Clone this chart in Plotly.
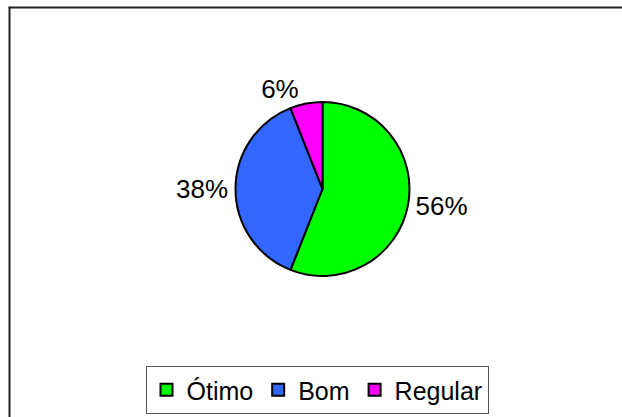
import plotly.graph_objects as go

# data
labels = ["Ótimo", "Bom", "Regular"]
values = [56, 38, 6]
colors = ["#00FF00", "#3366FF", "#FF00FF"]

W, H = 622, 417
FONT = "Liberation Sans, Arial, sans-serif"

# pie placement (pixels): centre and radius
cx, cy, r = 322.5, 189, 87

fig = go.Figure()
fig.add_trace(
    go.Pie(
        labels=labels,
        values=values,
        sort=False,
        direction="clockwise",
        rotation=0,
        marker=dict(colors=colors, line=dict(color="black", width=2)),
        textinfo="percent",
        texttemplate="%{percent:.0%}",
        textposition="outside",
        outsidetextfont=dict(family=FONT, size=26, color="black"),
        domain=dict(
            x=[(cx - r) / W, (cx + r) / W],
            y=[(H - cy - r) / H, (H - cy + r) / H],
        ),
        showlegend=True,
        hoverinfo="label+percent",
    )
)

# outer chart frame: only its top and left edges fall inside the picture
frame_x, frame_y = 9.5 / W, 1 - 7.5 / H
frame_line = dict(color="#222222", width=2)
fig.add_shape(type="line", xref="paper", yref="paper",
              x0=frame_x - 0.0015, x1=1.0, y0=frame_y, y1=frame_y, line=frame_line)
fig.add_shape(type="line", xref="paper", yref="paper",
              x0=frame_x, x1=frame_x, y0=0.0, y1=frame_y + 0.002, line=frame_line)

fig.update_layout(
    width=W,
    height=H,
    margin=dict(l=0, r=0, t=0, b=0),
    paper_bgcolor="white",
    plot_bgcolor="white",
    font=dict(family=FONT, size=26, color="black"),
    legend=dict(
        orientation="h",
        x=317 / W,
        xanchor="center",
        y=3 / H,
        yanchor="bottom",
        bordercolor="#555555",
        borderwidth=1,
        bgcolor="white",
        font=dict(family=FONT, size=25, color="black"),
        itemclick=False,
    ),
)

fig.write_html(
    "out.html",
    config={"displayModeBar": False},
    post_script="document.body.style.margin='0';document.body.style.overflow='hidden';",
)
